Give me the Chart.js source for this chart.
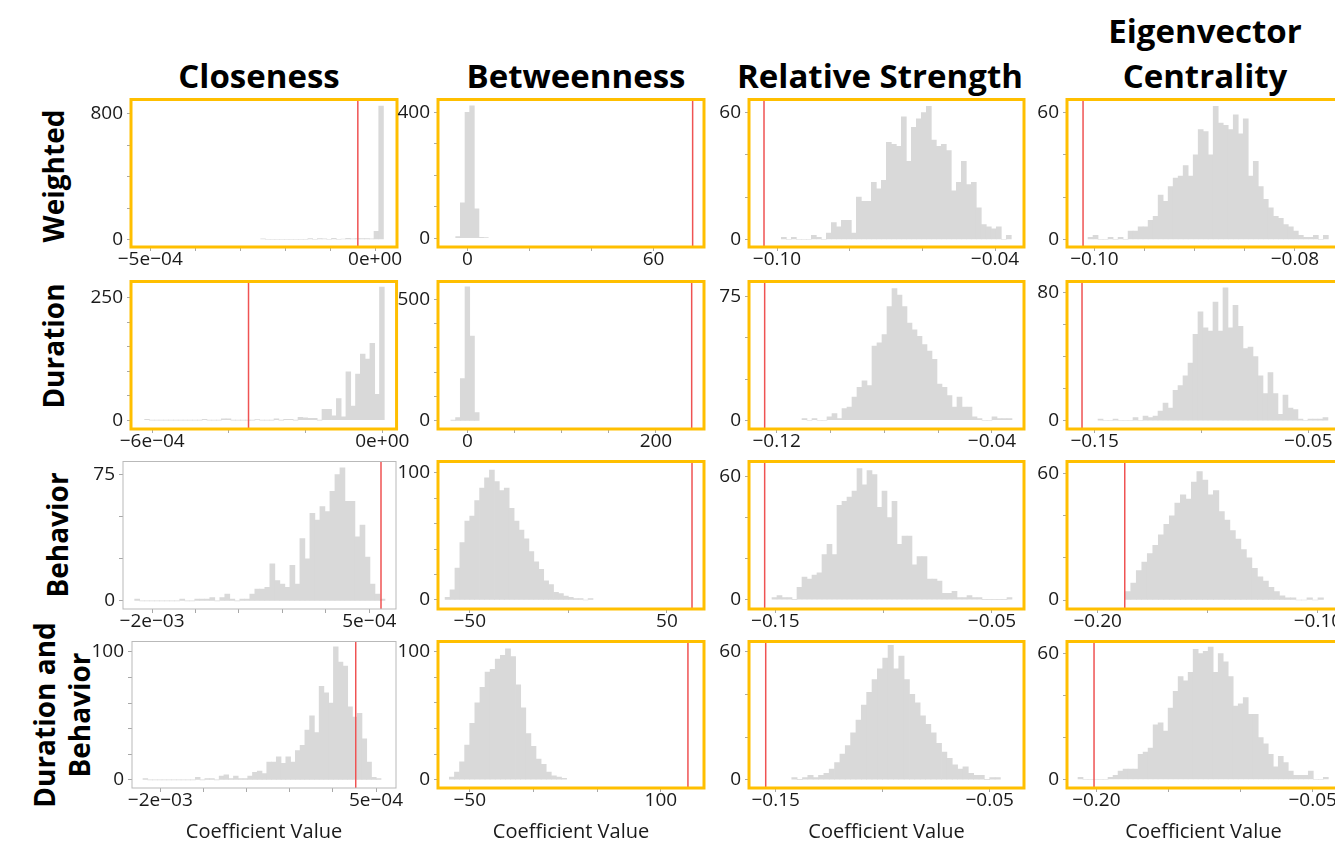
<!DOCTYPE html>
<html>
<head>
<meta charset="utf-8">
<title>Permutation distributions of network coefficients</title>
<script src="https://cdn.jsdelivr.net/npm/chart.js@4.4.1/dist/chart.umd.min.js"></script>
<style>
  html, body { margin: 0; padding: 0; background: #ffffff; }
  body { position: relative; width: 1335px; height: 842px; overflow: hidden; font-family: "Open Sans", sans-serif; color: #000; }
  .col-title { position: absolute; font-weight: 700; font-size: 33px; line-height: 45px; text-align: center; white-space: nowrap; }
  .row-title { position: absolute; font-weight: 700; font-size: 28px; line-height: 35px; text-align: center; white-space: nowrap;
               transform: translate(-50%, -50%) rotate(-90deg); }
  canvas.panel { position: absolute; }
</style>
</head>
<body>
<script>
// ---- Headers ----
const columnTitles = ['Closeness', 'Betweenness', 'Relative Strength', 'Eigenvector<br>Centrality'];
const rowTitles = ['Weighted', 'Duration', 'Behavior', 'Duration and<br>Behavior'];
const axisTitle = 'Coefficient Value';

// ---- Histogram counts (permuted coefficients), one array per panel ----
const closenessWeighted   = [4,0,0,0,0,0,0,0,0,0,5,0,5,4,0,8,0,3,8,4,5,5,5,4,52,850];
const betweennessWeighted = [5,112,400,420,93,3,2];
const strengthWeighted    = [1,0,1,0,0,0,2,1,0,3,8,6,9,9,3,20,18,18,27,24,28,46,45,44,58,37,53,57,60,63,47,44,45,42,23,27,37,26,27,15,7,6,5,6,0,2];
const eigenWeighted       = [1,2,0,0,1,0,1,0,4,4,6,6,9,11,21,18,25,29,30,35,30,40,52,51,40,63,55,54,52,59,50,57,30,37,25,19,15,11,10,7,6,4,2,1,1,2,0,2];

const closenessDuration   = [2,0,0,0,0,0,0,0,0,0,0,0,2,0,0,0,3,3,0,0,0,0,0,1,0,0,0,3,0,2,2,0,6,5,4,4,0,22,22,9,44,7,99,29,94,135,125,157,53,272];
const betweennessDuration = [3,13,174,550,348,34];
const strengthDuration    = [1,0,1,0,0,2,4,1,7,8,14,20,24,21,45,47,52,69,80,76,69,59,55,51,46,42,37,22,20,15,8,14,8,8,2,1,0,0,2,1,1,1];
const eigenDuration       = [1,0,0,1,0,0,0,2,0,3,2,3,6,11,8,19,22,28,36,54,68,58,56,74,56,83,58,72,59,45,46,40,28,17,30,17,4,16,8,7,1,0,1,1,1,2];

const closenessBehavior   = [1,0,0,0,0,0,0,0,0,1,0,0,1,1,1,2,0,2,4,1,0,1,1,4,7,7,8,22,12,10,8,21,10,37,25,52,48,56,53,65,75,79,59,59,38,45,26,10,4,1];
const betweennessBehavior = [2,8,25,45,62,66,78,88,96,102,93,86,88,72,62,55,48,38,30,24,15,12,6,5,3,2,1,1,0,1];
const strengthBehavior    = [1,2,1,1,0,6,11,10,12,13,22,27,22,46,48,50,53,64,56,63,61,45,53,40,48,27,31,31,17,21,21,10,10,9,3,3,4,1,1,2,1,1,0,0,0,0,0,1];
const eigenBehavior       = [4,8,14,18,22,26,31,36,40,46,50,48,56,61,57,50,52,42,38,33,29,24,20,15,11,9,6,4,2,1,1,0,0,1,0,1];

const closenessBoth       = [1,0,0,0,0,0,0,0,0,0,0,2,0,1,1,0,3,4,1,3,1,1,3,6,7,5,14,14,18,13,18,14,23,27,39,50,37,73,68,60,104,92,89,57,49,52,32,14,2,1];
const betweennessBoth     = [2,6,14,27,44,60,72,84,86,94,97,102,96,74,56,36,26,16,12,6,3,2,1];
const strengthBoth        = [1,0,1,2,1,2,3,5,8,12,16,22,28,35,41,47,52,57,63,52,58,47,40,36,30,26,22,17,13,10,7,5,6,3,2,2,0,1,1];
const eigenBoth           = [1,0,0,0,0,0,1,2,4,5,5,5,12,13,15,26,27,23,34,42,49,47,51,62,60,61,63,51,60,56,49,35,36,39,31,31,20,17,12,6,11,8,4,2,2,2,4,0,0,1];

// Left edge of the first bin and bin width, in panel order (row by row)
const binStarts = [-2.544e-4, -3.76, -0.09881, -0.100632,
                   -6.198e-4, -17.5, -0.11059, -0.14844,
                   -2.1997e-3, -62.5, -0.15154, -0.1875,
                   -2.2006e-3, -66, -0.1425, -0.21273];
const binWidths = [1.05e-5, 1.5, 0.001376, 4.992e-4,
                   1.25e-5, 5, 0.0018576, 0.00234,
                   5.76e-5, 2.5, 0.0023077, 0.0025,
                   5.517e-5, 4, 0.0025, 0.0034722];

// Observed coefficient (red line) per panel
const observedValues = [-3.84e-5, 72.58, -0.10358, -0.10113,
                        -3.489e-4, 237.9, -0.12446, -0.15594,
                        6.344e-4, 62.7, -0.15492, -0.18773,
                        2.647e-4, 121.2, -0.15467, -0.20162];

// Axis ranges
const xMins = [-5.428e-4, -9.46, -0.10771, -0.10273, -6.554e-4, -31.15, -0.13028, -0.16297,
               -2.334e-3, -66.09, -0.16215, -0.21395, -2.328e-3, -74.9, -0.16248, -0.22037];
const xMaxs = [4.87e-5, 76.24, -0.03202, -0.07551, 3.72e-5, 250.97, -0.02811, -0.03516,
               8.07e-4, 68.78, -0.03523, -0.09, 7.315e-4, 133.8, -0.03397, -0.03102];
const yMins = [-48, -28, -3.56, -3.56, -18, -33.4, -5.34, -5.13, -4.85, -7.1, -4.6, -4.27, -6.3, -6.5, -3.9, -4.05];
const yMaxs = [891.4, 440.4, 66.2, 66.2, 283.3, 572.4, 84.3, 86.9, 82.7, 108.8, 67.4, 65.8, 108.1, 107.8, 64.8, 65.7];

// Tick values and the texts printed at them ('' = tick mark only)
const xTickValues = [
  [-5e-4, -4e-4, -3e-4, -2e-4, -1e-4, 0], [0, 20, 40, 60], [-0.10, -0.08, -0.06, -0.04], [-0.10, -0.095, -0.09, -0.085, -0.08],
  [-6e-4, -4e-4, -2e-4, 0], [0, 50, 100, 150, 200], [-0.12, -0.10, -0.08, -0.06, -0.04], [-0.15, -0.10, -0.05],
  [-2e-3, -1.5e-3, -1e-3, -5e-4, 0, 5e-4], [-50, 0, 50], [-0.15, -0.10, -0.05], [-0.20, -0.15, -0.10],
  [-2e-3, -1.5e-3, -1e-3, -5e-4, 0, 5e-4], [-50, 0, 50, 100], [-0.15, -0.10, -0.05], [-0.20, -0.15, -0.10, -0.05]
];
const xTickTexts = [
  ['\u22125e\u221204', '', '', '', '', '0e+00'], ['0', '', '', '60'], ['\u22120.10', '', '', '\u22120.04'], ['\u22120.10', '', '', '', '\u22120.08'],
  ['\u22126e\u221204', '', '', '0e+00'], ['0', '', '', '', '200'], ['\u22120.12', '', '', '', '\u22120.04'], ['\u22120.15', '', '\u22120.05'],
  ['\u22122e\u221203', '', '', '', '', '5e\u221204'], ['\u221250', '', '50'], ['\u22120.15', '', '\u22120.05'], ['\u22120.20', '', '\u22120.10'],
  ['\u22122e\u221203', '', '', '', '', '5e\u221204'], ['\u221250', '', '', '100'], ['\u22120.15', '', '\u22120.05'], ['\u22120.20', '', '', '\u22120.05']
];
const yTickValues = [
  [0, 200, 400, 600, 800], [0, 100, 200, 300, 400], [0, 20, 40, 60], [0, 20, 40, 60],
  [0, 50, 100, 150, 200, 250], [0, 100, 200, 300, 400, 500], [0, 25, 50, 75], [0, 20, 40, 60, 80],
  [0, 25, 50, 75], [0, 20, 40, 60, 80, 100], [0, 20, 40, 60], [0, 20, 40, 60],
  [0, 20, 40, 60, 80, 100], [0, 20, 40, 60, 80, 100], [0, 20, 40, 60], [0, 20, 40, 60]
];

const countSeries = [
  closenessWeighted, betweennessWeighted, strengthWeighted, eigenWeighted,
  closenessDuration, betweennessDuration, strengthDuration, eigenDuration,
  closenessBehavior, betweennessBehavior, strengthBehavior, eigenBehavior,
  closenessBoth, betweennessBoth, strengthBoth, eigenBoth
];

// ---- Page geometry of each plotting frame ----
const colLeft = [130.7, 438.3, 749.3, 1067.3];
const colRight = [397.3, 704, 1024.3, 1340];
const rowTop = [96, 277.7, 457.5, 637.5];
const rowBottom = [246.7, 428.5, 608.5, 787.5];
const plainFramePanels = [8, 12];            // drawn with a thin grey box instead of the gold one
const frameOverrides = { 8: [123.3, 396], 12: [131.7, 396] };

const AXIS_W = 60, PAD_T = 10, PAD_R = 12, XAXIS_H = 40, XAXIS_H_LAST = 56;

// ---- Titles ----
const colTitleCenters = [259, 576, 880, 1205];
columnTitles.forEach((t, i) => {
  const d = document.createElement('div');
  d.className = 'col-title';
  d.innerHTML = t;
  d.style.width = '400px';
  d.style.left = (colTitleCenters[i] - 200) + 'px';
  d.style.top = (t.includes('<br>') ? 8 : 53) + 'px';
  document.body.appendChild(d);
});
const rowTitleCenters = [[53, 176], [53, 346], [57, 535], [62, 715]];
rowTitles.forEach((t, i) => {
  const d = document.createElement('div');
  d.className = 'row-title';
  d.innerHTML = t;
  d.style.left = rowTitleCenters[i][0] + 'px';
  d.style.top = rowTitleCenters[i][1] + 'px';
  document.body.appendChild(d);
});

// ---- Chart.js setup ----
Chart.defaults.font.family = '"Open Sans", sans-serif';
Chart.defaults.color = '#1a1a1a';

// Draws the observed-value line and the frame around the plotting area
const frameAndObserved = {
  id: 'frameAndObserved',
  afterDatasetsDraw(chart, args, opts) {
    const { ctx, chartArea: a } = chart;
    const px = chart.scales.x.getPixelForValue(opts.observed);
    ctx.save();
    ctx.beginPath();
    ctx.strokeStyle = '#ef5353';
    ctx.lineWidth = 1.5;
    ctx.moveTo(px, a.top);
    ctx.lineTo(px, a.bottom);
    ctx.stroke();
    ctx.lineWidth = opts.frameWidth;
    ctx.strokeStyle = opts.frameColor;
    ctx.strokeRect(a.left, a.top, a.right - a.left, a.bottom - a.top);
    ctx.restore();
  }
};

countSeries.forEach((counts, p) => {
  const r = Math.floor(p / 4), c = p % 4;
  let left = colLeft[c], right = colRight[c];
  if (frameOverrides[p]) { left = frameOverrides[p][0]; right = frameOverrides[p][1]; }
  const L = Math.round(left), R = Math.round(right);
  const T = Math.round(rowTop[r]), B = Math.round(rowBottom[r]);
  const lastRow = r === 3;
  const xh = lastRow ? XAXIS_H_LAST : XAXIS_H;

  const cv = document.createElement('canvas');
  cv.className = 'panel';
  const w = R - L + AXIS_W + PAD_R, h = B - T + PAD_T + xh;
  cv.width = w; cv.height = h;
  cv.style.width = w + 'px'; cv.style.height = h + 'px';
  cv.style.left = (L - AXIS_W) + 'px';
  cv.style.top = (T - PAD_T) + 'px';
  document.body.appendChild(cv);

  const points = counts.map((n, i) => ({ x: binStarts[p] + (i + 0.5) * binWidths[p], y: n }));
  const xt = xTickValues[p], xtt = xTickTexts[p];
  const yt = yTickValues[p];
  const plain = plainFramePanels.includes(p);

  new Chart(cv.getContext('2d'), {
    type: 'bar',
    data: {
      datasets: [{
        data: points,
        backgroundColor: '#d9d9d9',
        borderWidth: 0,
        barPercentage: 1,
        categoryPercentage: 1,
        grouped: false
      }]
    },
    options: {
      responsive: false,
      animation: false,
      events: [],
      layout: { padding: { left: 0, top: PAD_T, right: PAD_R, bottom: 0 }, autoPadding: false },
      plugins: {
        legend: { display: false },
        tooltip: { enabled: false },
        frameAndObserved: {
          observed: observedValues[p],
          frameColor: plain ? '#b9b9b9' : '#ffbf00',
          frameWidth: plain ? 1 : 3
        }
      },
      scales: {
        x: {
          type: 'linear',
          min: xMins[p], max: xMaxs[p],
          offset: false,
          grid: { display: true, offset: false, drawOnChartArea: false, tickLength: 4, color: '#a8a8a8' },
          border: { display: false },
          ticks: {
            autoSkip: false, maxRotation: 0, minRotation: 0, padding: -1,
            font: { size: 19, lineHeight: 1.0 }, color: '#1a1a1a',
            callback: (v, i) => xtt[i]
          },
          afterBuildTicks: s => { s.ticks = xt.map(v => ({ value: v })); },
          afterFit: s => { s.height = xh; },
          title: {
            display: lastRow, text: axisTitle, color: '#1a1a1a',
            font: { size: 20, lineHeight: 1.2 }, padding: { top: 0, bottom: 0 }
          }
        },
        y: {
          type: 'linear',
          min: yMins[p], max: yMaxs[p],
          grid: { display: true, drawOnChartArea: false, tickLength: 4, color: '#a8a8a8' },
          border: { display: false },
          ticks: {
            autoSkip: false, padding: 4,
            font: { size: 19, lineHeight: 1.0 }, color: '#1a1a1a',
            callback: (v, i) => (i === 0 || i === yt.length - 1) ? String(yt[i]) : ''
          },
          afterBuildTicks: s => { s.ticks = yt.map(v => ({ value: v })); },
          afterFit: s => { s.width = AXIS_W; }
        }
      }
    },
    plugins: [frameAndObserved]
  });
});
</script>
</body>
</html>
